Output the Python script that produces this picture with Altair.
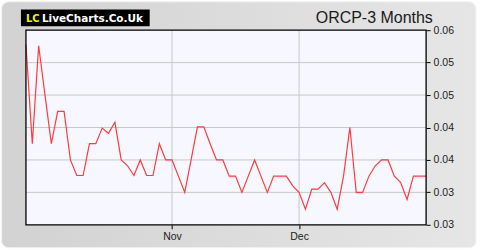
import altair as alt
import pandas as pd

# ---- data ----
prices = [0.0578, 0.0425, 0.0576, 0.0500, 0.0425, 0.0475, 0.0475, 0.0400, 0.0376, 0.0376,
          0.0425, 0.0425, 0.0449, 0.0441, 0.0458, 0.0400, 0.0391, 0.0376, 0.0400, 0.0376,
          0.0376, 0.0425, 0.0400, 0.0400, 0.0375, 0.0350, 0.0400, 0.0451, 0.0451, 0.0425,
          0.0400, 0.0400, 0.0375, 0.0375, 0.0350, 0.0375, 0.0400, 0.0375, 0.0350, 0.0375,
          0.0375, 0.0375, 0.0360, 0.0350, 0.0324, 0.0355, 0.0355, 0.0365, 0.0350, 0.0324,
          0.0375, 0.0450, 0.0350, 0.0350, 0.0375, 0.0391, 0.0400, 0.0400, 0.0375, 0.0365,
          0.0339, 0.0375, 0.0375, 0.0375]
ytick_values = [0.03, 0.035, 0.04, 0.045, 0.05, 0.055, 0.06]
ytick_labels = ["0.03", "0.03", "0.04", "0.04", "0.05", "0.05", "0.06"]
xtick_values = [23, 43]
xtick_labels = ["Nov", "Dec"]
title_text = "ORCP-3 Months"
logo_lc = "LC"
logo_rest = "LiveCharts.Co.Uk"

df = pd.DataFrame({"i": list(range(len(prices))), "price": prices})
ygrid = pd.DataFrame({"price": ytick_values[1:-1]})
xgrid = pd.DataFrame({"i": xtick_values})
one = pd.DataFrame({"a": [0]})

W, H = 401, 195
OX, OY = 25, 29

xs = alt.Scale(domain=[0, len(prices) - 1], nice=False, zero=False)
ys = alt.Scale(domain=[0.03, 0.06], nice=False, zero=False)

def mapping(vals, labs):
    v = "[" + ",".join(repr(x) for x in vals) + "]"
    l = "[" + ",".join("'" + s + "'" for s in labs) + "]"
    return f"{l}[indexof({v}, datum.value)]"

x_axis = alt.Axis(
    values=xtick_values, labelExpr=mapping(xtick_values, xtick_labels), grid=False,
    domain=False, ticks=True, tickSize=4, tickColor="#000", labelPadding=3,
    labelFont="Liberation Sans", labelFontSize=10.5, labelColor="#222",
    title=None, zindex=2)
y_axis = alt.Axis(
    orient="right", values=ytick_values, labelExpr=mapping(ytick_values, ytick_labels),
    grid=False, domain=False, ticks=True, tickSize=4, tickColor="#000", labelPadding=3,
    labelFont="Liberation Sans", labelFontSize=10.5, labelColor="#222",
    title=None, zindex=2)

base_bg = alt.Chart(one).mark_rect(fill="white").encode(
    x=alt.value(-OX), x2=alt.value(480 - OX), y=alt.value(-OY), y2=alt.value(250 - OY))

panel = alt.Chart(one).mark_rect(
    fill=alt.Gradient(gradient="linear",
                      stops=[alt.GradientStop(color="#d2d2d2", offset=0),
                             alt.GradientStop(color="#e6e6e6", offset=1)],
                      x1=0, x2=1, y1=0, y2=0),
    stroke="#f2f2f2", strokeWidth=1.2, cornerRadius=7
).encode(x=alt.value(-OX + 0.5), x2=alt.value(476 - OX), y=alt.value(-OY + 0.5), y2=alt.value(247 - OY))

plot_bg = alt.Chart(one).mark_rect(fill="#f7f8ff").encode(
    x=alt.value(0), x2=alt.value(W), y=alt.value(0), y2=alt.value(H))

hgrid = alt.Chart(ygrid).mark_rule(color="#c8c8c8", strokeWidth=1).encode(
    y=alt.Y("price:Q", scale=ys, axis=y_axis))
vgrid = alt.Chart(xgrid).mark_rule(color="#c8c8c8", strokeWidth=1).encode(
    x=alt.X("i:Q", scale=xs, axis=x_axis))

frame = alt.Chart(one).mark_rect(fill=None, stroke="#000000", strokeWidth=1.3).encode(
    x=alt.value(0), x2=alt.value(W), y=alt.value(0), y2=alt.value(H))

line = alt.Chart(df).mark_line(color="#ff3b3b", strokeWidth=1.2).encode(
    x=alt.X("i:Q", scale=xs, axis=x_axis),
    y=alt.Y("price:Q", scale=ys, axis=y_axis))

title = alt.Chart(one).mark_text(
    text=title_text, font="Liberation Sans", fontSize=16, color="#1a1a1a",
    align="right", baseline="alphabetic").encode(x=alt.value(432.7 - OX), y=alt.value(21.7 - OY))

logo_box = alt.Chart(one).mark_rect(fill="#000000").encode(
    x=alt.value(20 - OX), x2=alt.value(149 - OX), y=alt.value(8.3 - OY), y2=alt.value(25 - OY))
logo1 = alt.Chart(one).mark_text(
    text=logo_lc, font="DejaVu Sans", fontSize=10, fontWeight="bold", color="#f0f000",
    align="left", baseline="alphabetic").encode(x=alt.value(25 - OX), y=alt.value(20.7 - OY))
logo2 = alt.Chart(one).mark_text(
    text=logo_rest, font="DejaVu Sans", fontSize=10.5, fontWeight="bold", color="#ffffff",
    align="left", baseline="alphabetic").encode(x=alt.value(41 - OX), y=alt.value(20.7 - OY))

chart = alt.layer(base_bg, panel, plot_bg, hgrid, vgrid, line, frame, title, logo_box, logo1, logo2).properties(
    width=W, height=H, padding=0, autosize=alt.AutoSizeParams(type="pad")
).configure_view(stroke=None).configure(background="white")

chart.save("out.html", embed_options={"renderer": "svg", "actions": False})
